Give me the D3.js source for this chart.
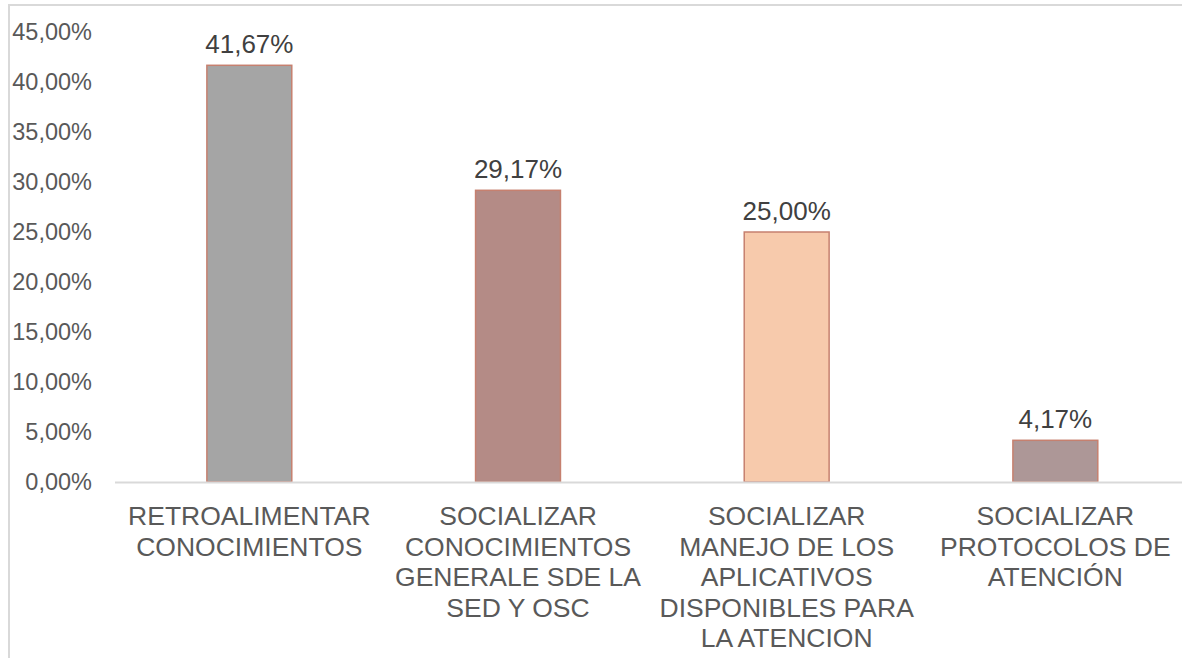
<!DOCTYPE html>
<html>
<head>
<meta charset="utf-8">
<script src="https://cdn.jsdelivr.net/npm/d3@7"></script>
<style>
  body { margin: 0; background: #fff; }
  svg { display: block; font-family: "Liberation Sans", Arial, sans-serif; }
</style>
</head>
<body>
<svg></svg>
<script>
let width = 1182, height = 658;

// data
let categories = ["RETROALIMENTAR CONOCIMIENTOS", "SOCIALIZAR CONOCIMIENTOS GENERALE SDE LA SED Y OSC",
    "SOCIALIZAR MANEJO DE LOS APLICATIVOS DISPONIBLES PARA LA ATENCION", "SOCIALIZAR PROTOCOLOS DE ATENCIÓN"];
let labelLines = [
    ["RETROALIMENTAR", "CONOCIMIENTOS"],
    ["SOCIALIZAR", "CONOCIMIENTOS", "GENERALE SDE LA", "SED Y OSC"],
    ["SOCIALIZAR", "MANEJO DE LOS", "APLICATIVOS", "DISPONIBLES PARA", "LA ATENCION"],
    ["SOCIALIZAR", "PROTOCOLOS DE", "ATENCIÓN"]
];
let values = [41.67, 29.17, 25.00, 4.17];
let barColors = ["#a5a5a5", "#b48b86", "#f7caac", "#ad9797"];
let yTicks = [0, 5, 10, 15, 20, 25, 30, 35, 40, 45];

let fmt = v => v.toFixed(2).replace(".", ",") + "%";

let svg = d3.select("svg")
    .attr("width", width)
    .attr("height", height);

// chart frame (cropped)
svg.append("path")
    .attr("d", "M9,659V5H1190")
    .attr("fill", "none")
    .attr("stroke", "#d9d9d9")
    .attr("stroke-width", 2);

let x = d3.scaleBand()
    .domain(categories)
    .range([115, 115 + 4 * 268.67])
    .paddingInner(0.684)
    .paddingOuter(0.342);

let y = d3.scaleLinear()
    .domain([0, 45])
    .range([482, 32]);

// y axis labels
svg.append("g")
    .selectAll("text")
    .data(yTicks)
    .enter()
    .append("text")
    .attr("x", 92)
    .attr("y", d => y(d))
    .attr("dy", "0.36em")
    .attr("text-anchor", "end")
    .attr("fill", "#595959")
    .style("font-size", "23.5px")
    .text(d => fmt(d));

// bars
svg.append("g")
    .selectAll("rect")
    .data(values)
    .enter()
    .append("rect")
    .attr("x", (d, i) => x(categories[i]))
    .attr("y", d => y(d))
    .attr("width", x.bandwidth())
    .attr("height", d => y(0) - y(d))
    .attr("fill", (d, i) => barColors[i])
    .attr("stroke", "#c6806f")
    .attr("stroke-width", 1.5);

// baseline
svg.append("line")
    .attr("x1", 115)
    .attr("x2", width)
    .attr("y1", y(0) + 0.5)
    .attr("y2", y(0) + 0.5)
    .attr("stroke", "#d9d9d9")
    .attr("stroke-width", 2);

// data labels
svg.append("g")
    .selectAll("text")
    .data(values)
    .enter()
    .append("text")
    .attr("x", (d, i) => x(categories[i]) + x.bandwidth() / 2)
    .attr("y", d => y(d) - 12)
    .attr("text-anchor", "middle")
    .attr("fill", "#404040")
    .style("font-size", "26px")
    .text(d => fmt(d));

// category labels
let cat = svg.append("g")
    .selectAll("text")
    .data(labelLines)
    .enter()
    .append("text")
    .attr("text-anchor", "middle")
    .attr("fill", "#595959")
    .style("font-size", "26.5px");

cat.selectAll("tspan")
    .data((d, i) => d.map(l => ({ line: l, i: i })))
    .enter()
    .append("tspan")
    .attr("x", d => x(categories[d.i]) + x.bandwidth() / 2)
    .attr("y", (d, j) => 525 + j * 30.5)
    .text(d => d.line);
</script>
</body>
</html>
